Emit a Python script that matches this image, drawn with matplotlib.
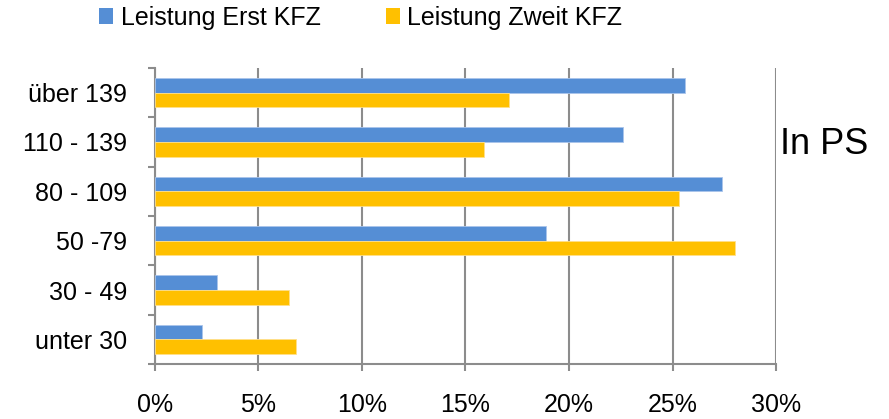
import matplotlib.pyplot as plt
import numpy as np
from matplotlib.patches import Patch

plt.rcParams['font.family'] = ['Liberation Sans', 'DejaVu Sans']

categories = ['unter 30', '30 - 49', '50 -79', '80 - 109', '110 - 139', 'über 139']
erst = [2.3, 3.0, 18.9, 27.4, 22.6, 25.6]
zweit = [6.8, 6.5, 28.0, 25.3, 15.9, 17.1]
xticks = [0, 5, 10, 15, 20, 25, 30]

blue = '#558ED5'
yellow = '#FFC000'
grid_col = '#8C8C8C'

fig = plt.figure(figsize=(8.89, 4.19), dpi=100)
ax = fig.add_axes([0.174, 0.131, 0.699, 0.707])

y = np.arange(len(categories))
h = 0.295
ax.barh(y + h / 2, erst, height=h, color=blue, edgecolor='#A9C4EB', linewidth=0.6, zorder=3)
ax.barh(y - h / 2, zweit, height=h, color=yellow, edgecolor='#FFE08A', linewidth=0.6, zorder=3)

ax.set_xlim(0, 30)
ax.set_ylim(-0.5, len(categories) - 0.5)
ax.set_xticks(xticks)
ax.set_xticklabels([f'{v}%' for v in xticks])
ax.set_yticks(np.arange(len(categories) + 1) - 0.5, minor=False)
ax.set_yticklabels([])
ax.set_yticks(y, minor=True)
ax.set_yticklabels(categories, minor=True)
ax.tick_params(axis='y', which='minor', length=0, pad=20, labelsize=18)
ax.tick_params(axis='y', which='major', length=5, width=1.5, color=grid_col)
ax.tick_params(axis='x', length=5, width=1.5, color=grid_col, pad=16, labelsize=18)

ax.grid(axis='x', color=grid_col, linewidth=1.5, zorder=0)
for s in ['top', 'right']:
    ax.spines[s].set_visible(False)
for s in ['left', 'bottom']:
    ax.spines[s].set_color(grid_col)
    ax.spines[s].set_linewidth(1.5)

handles = [Patch(facecolor=blue), Patch(facecolor=yellow)]
fig.legend(handles, ['Leistung Erst KFZ', 'Leistung Zweit KFZ'], loc='center',
           bbox_to_anchor=(0.406, 0.958), ncol=2, frameon=False, fontsize=18,
           handlelength=0.56, handleheight=0.6, handletextpad=0.3, columnspacing=2.6,
           borderpad=0, borderaxespad=0)

fig.text(0.877, 0.654, 'In PS', fontsize=26, ha='left', va='center')

fig.savefig('out.png', dpi=100)
